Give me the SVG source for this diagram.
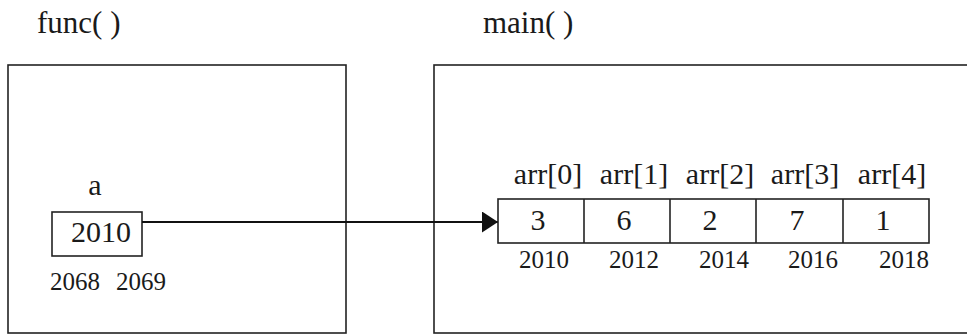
<svg xmlns="http://www.w3.org/2000/svg" width="967" height="334" viewBox="0 0 967 334">
<style>
text{font-family:'Liberation Serif','Times New Roman',Times,'DejaVu Serif',serif;fill:#1a1a1a}
.t{font-size:31px}
.v{font-size:30px;text-anchor:middle}
.l{font-size:30px;text-anchor:middle}
.s{font-size:25px;text-anchor:middle}
.b{fill:none;stroke:#222;stroke-width:1.6}
.c{fill:#fff;stroke:#222;stroke-width:1.6}
</style>
<defs>
<marker id="ah" markerWidth="16" markerHeight="21" refX="16" refY="10.5" orient="auto" markerUnits="userSpaceOnUse">
<path d="M0,0 L16,10.5 L0,21 Z" fill="#111"/>
</marker>
</defs>
<g id="func">
<text class="t" x="37" y="33">func( )</text>
<rect class="b" x="8" y="65" width="338" height="268"/>
</g>
<g id="main">
<text class="t" x="483" y="33">main( )</text>
<rect class="b" x="434" y="65" width="560" height="268"/>
</g>
<g id="var-a">
<text class="l" x="95" y="195">a</text>
<rect class="c" x="52" y="212" width="90" height="44"/>
<text class="v" x="101" y="242">2010</text>
<text class="s" x="75" y="290">2068</text>
<text class="s" x="141" y="290">2069</text>
</g>
<g id="connectors">
<line x1="142" y1="222" x2="498" y2="222" stroke="#111" stroke-width="2" marker-end="url(#ah)"/>
</g>
<g id="arr">
<rect class="c" x="498" y="199" width="431" height="44"/>
<line class="b" x1="584" y1="199" x2="584" y2="243"/>
<line class="b" x1="670" y1="199" x2="670" y2="243"/>
<line class="b" x1="756" y1="199" x2="756" y2="243"/>
<line class="b" x1="843" y1="199" x2="843" y2="243"/>
<text class="v" x="538" y="230">3</text>
<text class="v" x="624" y="230">6</text>
<text class="v" x="710" y="230">2</text>
<text class="v" x="797" y="230">7</text>
<text class="v" x="883" y="230">1</text>
<text class="l" x="548" y="184">arr[0]</text>
<text class="l" x="634" y="184">arr[1]</text>
<text class="l" x="720" y="184">arr[2]</text>
<text class="l" x="805" y="184">arr[3]</text>
<text class="l" x="892" y="184">arr[4]</text>
<text class="s" x="544" y="268">2010</text>
<text class="s" x="634" y="268">2012</text>
<text class="s" x="724" y="268">2014</text>
<text class="s" x="813" y="268">2016</text>
<text class="s" x="904" y="268">2018</text>
</g>
</svg>
